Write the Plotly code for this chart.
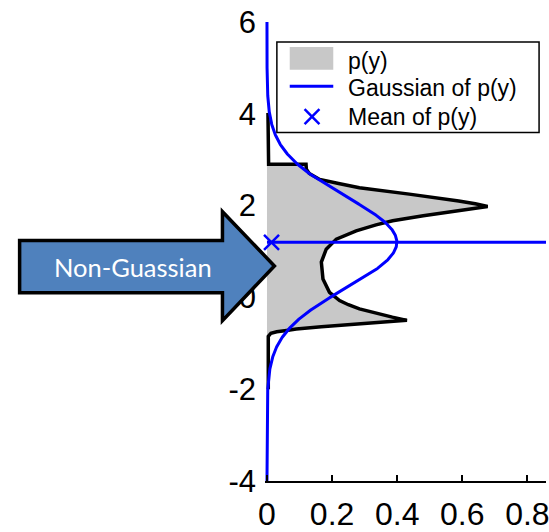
import numpy as np
import plotly.graph_objects as go

# ---- data ----------------------------------------------------------------
# p(y): outline of the density, traced from the lower tail to the upper tail
PY_VALUES = [-2.00, -0.85, -0.78, -0.75, -0.72, -0.69, -0.64, -0.59, -0.54, -0.50,
             -0.43, -0.34, -0.25, -0.16, -0.07, 0.11, 0.40, 0.77, 1.05, 1.27,
             1.45, 1.58, 1.67, 1.78, 1.885, 1.98, 2.04, 2.10, 2.25, 2.39,
             2.48, 2.57, 2.70, 2.79, 2.90, 2.90, 4.02]
PY_DENSITY = [0.004, 0.004, 0.012, 0.030, 0.060, 0.090, 0.167, 0.269, 0.370, 0.430,
              0.385, 0.330, 0.284, 0.250, 0.223, 0.192, 0.172, 0.167, 0.182, 0.213,
              0.274, 0.335, 0.386, 0.480, 0.589, 0.678, 0.640, 0.589, 0.437, 0.284,
              0.220, 0.162, 0.130, 0.121, 0.120, 0.005, 0.003]

# Gaussian fitted to p(y)
GAUSS_MEAN = 1.2
GAUSS_STD = 1.0
MEAN_MARKER_X = 0.014

X_TICKS = [0, 0.2, 0.4, 0.6, 0.8]
X_TICK_LABELS = ["0", "0.2", "0.4", "0.6", "0.8"]
Y_TICKS = [-4, -2, 0, 2, 4, 6]
Y_TICK_LABELS = ["-4", "-2", "0", "2", "4", "6"]

LEGEND_LABELS = ["p(y)", "Gaussian of p(y)", "Mean of p(y)"]
ARROW_TEXT = "Non-Guassian"

# ---- figure geometry (pixels) -------------------------------------------
W, H = 549, 532
PLOT_L, PLOT_R, PLOT_T, PLOT_B = 265, 549, 22, 483
PX_PER_X = 329.0
X_MIN = -(267 - PLOT_L) / PX_PER_X
X_MAX = X_MIN + (PLOT_R - PLOT_L) / PX_PER_X
Y_MIN, Y_MAX = -4, 6


def px_x(px):
    return (px - PLOT_L) / (PLOT_R - PLOT_L)


def px_y(py):
    return (PLOT_B - py) / (PLOT_B - PLOT_T)


BLUE = "#0000ff"
GRAY = "#c8c8c8"

y_grid = np.linspace(Y_MIN, Y_MAX, 801)
gauss = np.exp(-0.5 * ((y_grid - GAUSS_MEAN) / GAUSS_STD) ** 2) / (GAUSS_STD * np.sqrt(2 * np.pi))

fig = go.Figure()

# shaded p(y)
fig.add_trace(go.Scatter(x=PY_DENSITY, y=PY_VALUES, mode="lines", fill="tozerox",
                         fillcolor=GRAY, line=dict(width=0, color=GRAY),
                         name=LEGEND_LABELS[0], showlegend=False, hoverinfo="skip"))
# outline of p(y)
fig.add_trace(go.Scatter(x=PY_DENSITY, y=PY_VALUES, mode="lines",
                         line=dict(width=3.5, color="black"),
                         showlegend=False, hoverinfo="skip"))
# Gaussian of p(y)
fig.add_trace(go.Scatter(x=gauss, y=y_grid, mode="lines",
                         line=dict(width=3, color=BLUE),
                         name=LEGEND_LABELS[1], showlegend=False))
# line through the mean
fig.add_trace(go.Scatter(x=[0, X_MAX], y=[GAUSS_MEAN, GAUSS_MEAN], mode="lines",
                         line=dict(width=3, color=BLUE), showlegend=False))
# mean marker
fig.add_trace(go.Scatter(x=[MEAN_MARKER_X], y=[GAUSS_MEAN], mode="markers",
                         marker=dict(symbol="x-thin", size=15,
                                     line=dict(width=2.5, color=BLUE)),
                         cliponaxis=False, name=LEGEND_LABELS[2], showlegend=False))

shapes = []
annotations = []

# legend box
lg_l, lg_r, lg_t, lg_b = 277, 542, 42, 133
shapes.append(dict(type="rect", xref="paper", yref="paper",
                   x0=px_x(lg_l), x1=px_x(lg_r), y0=px_y(lg_b), y1=px_y(lg_t),
                   fillcolor="white", line=dict(color="black", width=1.5), layer="above"))
# legend symbols
shapes.append(dict(type="rect", xref="paper", yref="paper",
                   x0=px_x(290), x1=px_x(334), y0=px_y(70), y1=px_y(47),
                   fillcolor=GRAY, line=dict(width=0), layer="above"))
shapes.append(dict(type="line", xref="paper", yref="paper",
                   x0=px_x(290), x1=px_x(334), y0=px_y(86.5), y1=px_y(86.5),
                   line=dict(color=BLUE, width=3), layer="above"))
mx, my, mh = 312.5, 117, 7.5
shapes.append(dict(type="line", xref="paper", yref="paper",
                   x0=px_x(mx - mh), x1=px_x(mx + mh), y0=px_y(my - mh), y1=px_y(my + mh),
                   line=dict(color=BLUE, width=2.5), layer="above"))
shapes.append(dict(type="line", xref="paper", yref="paper",
                   x0=px_x(mx - mh), x1=px_x(mx + mh), y0=px_y(my + mh), y1=px_y(my - mh),
                   line=dict(color=BLUE, width=2.5), layer="above"))
for label, cy in zip(LEGEND_LABELS, [61, 88.5, 117.5]):
    annotations.append(dict(text=label, xref="paper", yref="paper",
                            x=px_x(347), y=px_y(cy), xanchor="left", yanchor="middle",
                            showarrow=False,
                            font=dict(family="Liberation Sans, Arial", size=23, color="black")))

# block arrow
arrow_pts = [(17, 241.5), (222, 241.5), (222, 212.5), (274.5, 267), (222, 322),
             (222, 294), (17, 294)]
path = "M " + " L ".join(f"{px_x(a):.5f},{px_y(b):.5f}" for a, b in arrow_pts) + " Z"
shapes.append(dict(type="path", xref="paper", yref="paper", path=path,
                   fillcolor="#4f81bd", line=dict(color="black", width=3.5), layer="above"))
annotations.append(dict(text=ARROW_TEXT, xref="paper", yref="paper",
                        x=px_x(131.5), y=px_y(268), xanchor="center", yanchor="middle",
                        showarrow=False,
                        font=dict(family="Lato, Open Sans", size=25.5, color="white")))

fig.update_layout(
    width=W, height=H,
    margin=dict(l=PLOT_L, r=W - PLOT_R, t=PLOT_T, b=H - PLOT_B, pad=0),
    paper_bgcolor="white", plot_bgcolor="white",
    showlegend=False,
    shapes=shapes, annotations=annotations,
    font=dict(family="Liberation Sans, Arial", color="black"),
    xaxis=dict(range=[X_MIN, X_MAX], tickvals=X_TICKS, ticktext=X_TICK_LABELS,
               ticks="inside", ticklen=6, tickwidth=1.5, tickcolor="black",
               showline=True, linecolor="black", linewidth=1.5,
               showgrid=False, zeroline=False, tickfont=dict(size=32),
               ticklabelstandoff=4, ticklabeloverflow="allow"),
    yaxis=dict(range=[Y_MIN, Y_MAX], tickvals=Y_TICKS, ticktext=Y_TICK_LABELS,
               ticks="", showline=False, showgrid=False, zeroline=False,
               tickfont=dict(size=31), ticklabelstandoff=8),
)

fig.write_html("out.html")
